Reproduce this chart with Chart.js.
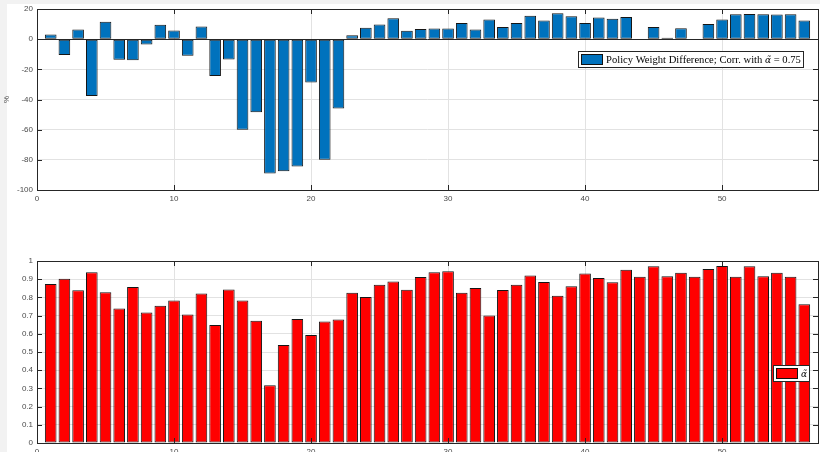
<!DOCTYPE html>
<html>
<head>
<meta charset="utf-8">
<script src="https://cdn.jsdelivr.net/npm/chart.js@4.4.1/dist/chart.umd.min.js"></script>
<style>
  html, body { margin: 0; padding: 0; background: #f2f2f2; }
  #fig { position: absolute; left: 7px; top: 4px; width: 813px; height: 448px; background: #fff; }
  .panel { position: absolute; left: 0; width: 820px; }
</style>
</head>
<body>
<div id="fig"></div>
<div class="panel" style="top:0;height:205px"><canvas id="diffChart" width="820" height="205"></canvas></div>
<div class="panel" style="top:252px;height:200px"><canvas id="alphaChart" width="820" height="200"></canvas></div>
<script>
// policy weight difference per unit (%)
const policyDiff = [3.1, -10.5, 6.4, -37.6, 11.6, -13.6, -14, -3.5, 9.5, 5.7,
  -11, 8.4, -24.4, -13.4, -60, -48.4, -89, -87.5, -84.4, -28.8,
  -80, -46, 2.6, 7.5, 9.7, 13.8, 5.5, 6.8, 7, 7,
  10.8, 6.4, 13, 8.1, 10.8, 15.6, 12.3, 17.1, 15.2, 10.8,
  14.3, 13.6, 14.7, 0.3, 8.1, 0.9, 7.3, 0.3, 10.1, 13,
  16.5, 16.7, 16.5, 16.3, 16.5, 12.3];

// alpha tilde per unit
const alphaTilde = [0.873, 0.903, 0.839, 0.938, 0.828, 0.739, 0.857, 0.717, 0.754, 0.783,
  0.706, 0.822, 0.648, 0.844, 0.783, 0.672, 0.317, 0.538, 0.681, 0.594,
  0.668, 0.679, 0.826, 0.802, 0.870, 0.888, 0.842, 0.912, 0.938, 0.943,
  0.826, 0.851, 0.701, 0.840, 0.870, 0.921, 0.884, 0.809, 0.861, 0.932,
  0.906, 0.883, 0.952, 0.914, 0.971, 0.916, 0.936, 0.914, 0.956, 0.972,
  0.914, 0.971, 0.916, 0.936, 0.914, 0.763];

const xTicks = [0, 10, 20, 30, 40, 50];
const diffTicks = [-100, -80, -60, -40, -20, 0, 20];
const alphaTicks = [0, 0.1, 0.2, 0.3, 0.4, 0.5, 0.6, 0.7, 0.8, 0.9, 1];

const ALPHA = '\u03B1\u0303';
const diffLabel = 'Policy Weight Difference; Corr. with ' + ALPHA + ' = 0.75';
const alphaLabel = ALPHA;

const tickFont = { family: 'Liberation Sans', size: 8 };
const tickColor = '#4a4a4a';
const gridColor = '#e2e2e2';

// box, baseline and inward ticks on all four sides
const matlabAxes = {
  id: 'matlabAxes',
  afterDatasetsDraw(chart) {
    const { ctx, chartArea: a, scales: { x, y } } = chart;
    ctx.save();
    ctx.strokeStyle = '#262626';
    ctx.lineWidth = 1;
    const y0 = Math.round(y.getPixelForValue(0)) + 0.5;
    ctx.beginPath();
    ctx.moveTo(a.left, y0); ctx.lineTo(a.right, y0);
    ctx.stroke();
    ctx.strokeRect(Math.round(a.left) + 0.5, Math.round(a.top) + 0.5,
      Math.round(a.right - a.left), Math.round(a.bottom - a.top));
    ctx.beginPath();
    x.ticks.forEach(t => {
      const px = Math.round(x.getPixelForValue(t.value)) + 0.5;
      ctx.moveTo(px, a.bottom); ctx.lineTo(px, a.bottom - 5);
      ctx.moveTo(px, a.top); ctx.lineTo(px, a.top + 5);
    });
    y.ticks.forEach(t => {
      const py = Math.round(y.getPixelForValue(t.value)) + 0.5;
      ctx.moveTo(a.left, py); ctx.lineTo(a.left + 5, py);
      ctx.moveTo(a.right, py); ctx.lineTo(a.right - 5, py);
    });
    ctx.stroke();
    ctx.restore();
  }
};

// framed legend inside the plot area; the alpha symbol gets its own font
const boxLegend = {
  id: 'boxLegend',
  afterDraw(chart, args, opts) {
    const { ctx, chartArea: a } = chart;
    const ds = chart.data.datasets[0];
    const parts = ds.label.split(ALPHA);
    const pieces = [];
    parts.forEach((p, i) => {
      if (p) pieces.push({ text: p, font: opts.font });
      if (i < parts.length - 1) pieces.push({ text: ALPHA, font: opts.symbolFont });
    });
    ctx.save();
    let tw = 0;
    pieces.forEach(p => { ctx.font = p.font; p.w = ctx.measureText(p.text).width; tw += p.w; });
    const w = Math.round(3 + 22 + 3 + tw + 2), h = 16;
    const x0 = Math.round(a.right - opts.right - w), y0 = Math.round(a.top + opts.top);
    ctx.fillStyle = '#fff';
    ctx.fillRect(x0, y0, w, h);
    ctx.strokeStyle = '#262626';
    ctx.lineWidth = 1;
    ctx.strokeRect(x0 + 0.5, y0 + 0.5, w, h);
    ctx.fillStyle = ds.backgroundColor;
    ctx.fillRect(x0 + 3, y0 + 3, 22, 11);
    ctx.strokeStyle = '#111';
    ctx.strokeRect(x0 + 3.5, y0 + 3.5, 21, 10);
    ctx.fillStyle = '#000';
    ctx.textBaseline = 'alphabetic';
    let tx = x0 + 28;
    pieces.forEach(p => {
      ctx.font = p.font;
      ctx.fillText(p.text, tx, y0 + 12);
      tx += p.w;
    });
    ctx.restore();
  }
};

function barChart(id, values, label, color, yTicks, yMin, yMax, yFmt, yTitle, xHeight, legend) {
  return new Chart(id, {
    type: 'bar',
    data: {
      datasets: [{
        label: label,
        data: values.map((v, i) => ({ x: i + 1, y: v })),
        backgroundColor: color,
        borderColor: '#151515',
        borderWidth: 1,
        borderSkipped: false,
        categoryPercentage: 1,
        barPercentage: 0.85
      }]
    },
    options: {
      responsive: false,
      animation: false,
      layout: { padding: { top: 9, right: 2, left: 0, bottom: 0 } },
      plugins: {
        legend: { display: false },
        tooltip: { enabled: false },
        boxLegend: legend
      },
      scales: {
        x: {
          type: 'linear',
          min: 0,
          max: 57,
          offset: false,
          afterBuildTicks: s => { s.ticks = xTicks.map(v => ({ value: v })); },
          afterFit: s => { s.height = xHeight; },
          grid: { color: gridColor, drawTicks: false, offset: false },
          border: { display: false },
          ticks: { font: tickFont, color: tickColor, padding: 4, maxRotation: 0 }
        },
        y: {
          min: yMin,
          max: yMax,
          afterBuildTicks: s => { s.ticks = yTicks.map(v => ({ value: v })); },
          afterFit: s => { s.width = 37; },
          grid: { color: gridColor, drawTicks: false },
          border: { display: false },
          title: { display: !!yTitle, text: yTitle, font: tickFont, color: tickColor, padding: { top: 2, bottom: 0 } },
          ticks: { font: tickFont, color: tickColor, padding: 4, callback: yFmt }
        }
      }
    },
    plugins: [matlabAxes, boxLegend]
  });
}

barChart('diffChart', policyDiff, diffLabel, '#0072BD', diffTicks, -100, 20,
  v => String(v), '%', 15,
  { font: "10.6px 'Liberation Serif'", symbolFont: "italic 9px 'DejaVu Serif'", right: 15, top: 42 });

barChart('alphaChart', alphaTilde, alphaLabel, '#FF0000', alphaTicks, 0, 1,
  v => (v === 0 || v === 1) ? String(v) : v.toFixed(1), '', 9,
  { font: "10.6px 'Liberation Serif'", symbolFont: "italic 9px 'DejaVu Serif'", right: 9, top: 104 });
</script>
</body>
</html>
